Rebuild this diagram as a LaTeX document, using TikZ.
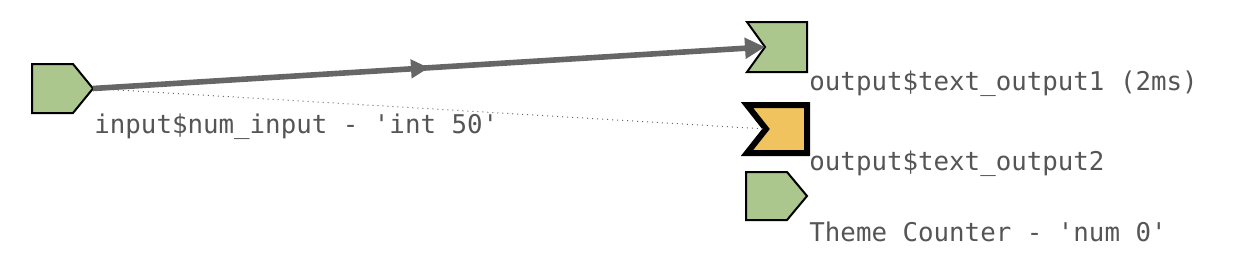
\documentclass[tikz,border=0pt]{standalone}
\usepackage{fontspec}
\setmonofont{DejaVu Sans Mono}
\usetikzlibrary{arrows.meta,decorations.markings}
\definecolor{nodegreen}{HTML}{ABC78E}
\definecolor{nodeorange}{HTML}{F0C35E}
\definecolor{edgegray}{HTML}{666666}
\definecolor{labelgray}{HTML}{555555}
\tikzset{
  shp/.style={draw=black, line width=1pt, line join=miter},
  active/.style={draw=black, line width=3pt, line join=miter},
  lbl/.style={anchor=west, inner sep=0pt, text=labelgray, font=\ttfamily\fontsize{12.9}{15}\selectfont},
  flow/.style={draw=edgegray, line width=2.8pt, -{Triangle[length=10pt,width=10pt]},
    postaction={decorate}, decoration={markings, mark=at position 0.5 with {\arrow{Triangle[length=9pt,width=9pt]}}}},
  dep/.style={draw=edgegray, line width=0.5pt, dotted}
}
\begin{document}
\begin{tikzpicture}[x=0.5pt,y=-0.5pt]
\useasboundingbox (0,0) rectangle (1254,258);
% input node
\path[shp, fill=nodegreen] (32,64) -- (73,64) -- (93,88.5) -- (73,113) -- (32,113) -- cycle;
\coordinate (in) at (93,88.5);
% output1
\path[shp, fill=nodegreen] (747,22) -- (807,22) -- (807,72) -- (747,72) -- (765,47) -- cycle;
\coordinate (out1) at (765,47);
% output2 (active)
\path[active, fill=nodeorange] (747,105) -- (807,105) -- (807,153) -- (747,153) -- (766,129) -- cycle;
\coordinate (out2) at (766,129);
% theme counter
\path[shp, fill=nodegreen] (746,172) -- (787,172) -- (807,196) -- (787,220) -- (746,220) -- cycle;
% edges
\draw[dep] (in) -- (out2);
\draw[flow] (in) -- (out1);
% labels
\node[lbl] (lin) at (94,127) {input\$num\_input - 'int 50'};
\node[lbl] (lo1) at (809,84) {output\$text\_output1 (2ms)};
\node[lbl] (lo2) at (809,164) {output\$text\_output2};
\node[lbl] (ltc) at (809,232) {Theme Counter - 'num 0'};
\end{tikzpicture}
\end{document}
